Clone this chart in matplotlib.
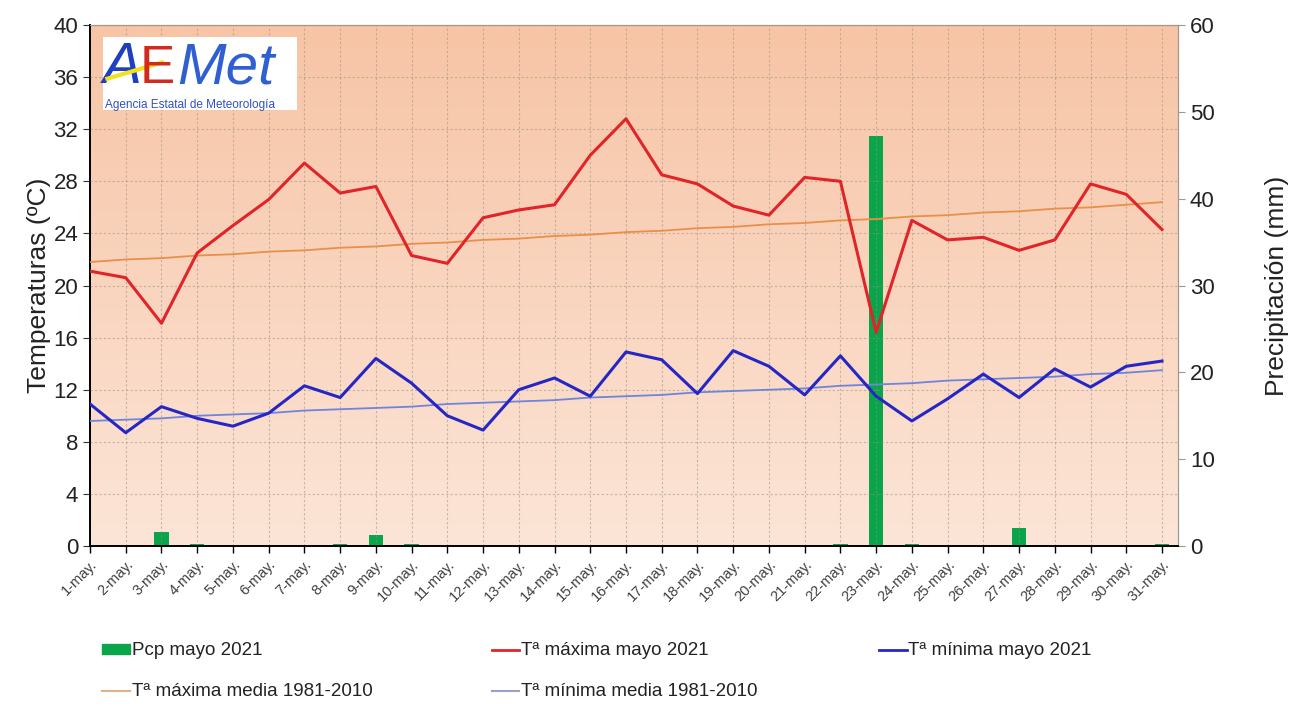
import numpy as np
import matplotlib.pyplot as plt
from matplotlib.lines import Line2D
from matplotlib.patches import Patch, Rectangle

plt.rcParams['font.family'] = ['Liberation Sans', 'DejaVu Sans']

days = list(range(1, 32))
day_labels = ['%d-may.' % d for d in days]

# daily values (May 2021)
tmax = [21.1, 20.6, 17.1, 22.5, 24.6, 26.6, 29.4, 27.1, 27.6, 22.3,
        21.7, 25.2, 25.8, 26.2, 30.0, 32.8, 28.5, 27.8, 26.1, 25.4,
        28.3, 28.0, 16.4, 25.0, 23.5, 23.7, 22.7, 23.5, 27.8, 27.0,
        24.3]
tmin = [10.9, 8.7, 10.7, 9.8, 9.2, 10.2, 12.3, 11.4, 14.4, 12.5,
        10.0, 8.9, 12.0, 12.9, 11.5, 14.9, 14.3, 11.7, 15.0, 13.8,
        11.6, 14.6, 11.5, 9.6, 11.3, 13.2, 11.4, 13.6, 12.2, 13.8,
        14.2]
tmax_normal = [21.8, 22.0, 22.1, 22.3, 22.4, 22.6, 22.7, 22.9, 23.0, 23.2,
               23.3, 23.5, 23.6, 23.8, 23.9, 24.1, 24.2, 24.4, 24.5, 24.7,
               24.8, 25.0, 25.1, 25.3, 25.4, 25.6, 25.7, 25.9, 26.0, 26.2,
               26.4]
tmin_normal = [9.6, 9.7, 9.8, 10.0, 10.1, 10.2, 10.4, 10.5, 10.6, 10.7,
               10.9, 11.0, 11.1, 11.2, 11.4, 11.5, 11.6, 11.8, 11.9, 12.0,
               12.1, 12.3, 12.4, 12.5, 12.7, 12.8, 12.9, 13.0, 13.2, 13.3,
               13.5]
pcp = [0, 0, 1.6, 0.2, 0, 0, 0, 0.2, 1.3, 0.2,
       0, 0, 0, 0, 0, 0, 0, 0, 0, 0,
       0, 0.2, 47.2, 0.2, 0, 0, 2.1, 0, 0, 0,
       0.2]

fig = plt.figure(figsize=(12.97, 7.06), dpi=100)
ax = fig.add_axes([0.0694, 0.2266, 0.8389, 0.7380])
ax2 = ax.twinx()
ax.set_zorder(ax2.get_zorder() + 1)
ax.patch.set_visible(False)

# gradient background + precipitation bars on the secondary axis
grad = np.linspace(0, 1, 256)[:, None]
top_c = np.array([247, 196, 165]) / 255.0
bot_c = np.array([252, 229, 215]) / 255.0
img = top_c[None, None, :] * (1 - grad[:, :, None]) + bot_c[None, None, :] * grad[:, :, None]
ax2.imshow(img, extent=[0.62, 31.45, 0, 60], aspect='auto', zorder=0)
ax2.bar(days, pcp, width=0.4, color='#0aa54a', zorder=2)

ax.plot(days, tmax_normal, color='#e8904a', lw=1.3, zorder=3)
ax.plot(days, tmin_normal, color='#6f84dc', lw=1.3, zorder=3)
ax.plot(days, tmax, color='#e0242a', lw=2.2, zorder=4)
ax.plot(days, tmin, color='#2626c4', lw=2.2, zorder=4)

ax.set_xlim(1, 31.45)
ax2.set_xlim(1, 31.45)
ax.set_ylim(0, 40)
ax2.set_ylim(0, 60)
ax.set_yticks(range(0, 41, 4))
ax2.set_yticks(range(0, 61, 10))
ax.set_xticks(days)
ax.set_xticklabels(day_labels, rotation=45, ha='right', rotation_mode='anchor',
                   fontsize=10.5, color='#404040')
ax.tick_params(axis='x', length=5, width=1, pad=3)
ax.tick_params(axis='y', labelsize=16, length=5, color='#333333', labelcolor='#222222')
ax2.tick_params(axis='y', labelsize=16, length=5, color='#999999', labelcolor='#222222')

ax.grid(True, color='#9a8f88', linestyle=(0, (2, 2)), linewidth=0.8, alpha=0.55)

for s in ['top', 'right']:
    ax.spines[s].set_color('#a09890')
    ax2.spines[s].set_color('#a09890')
ax.spines['left'].set_linewidth(1.4)
ax.spines['bottom'].set_linewidth(1.4)
ax2.spines['left'].set_visible(False)
ax2.spines['bottom'].set_visible(False)

ax.set_ylabel('Temperaturas (ºC)', fontsize=19, color='#222222', labelpad=2)
ax2.set_ylabel('Precipitación (mm)', fontsize=19, color='#222222', labelpad=36)

# AEMET logo
ax.add_patch(Rectangle((0.012, 0.837), 0.178, 0.140, transform=ax.transAxes,
                       facecolor='white', edgecolor='none', zorder=5))
ax.text(0.012, 0.888, 'A', transform=ax.transAxes, fontsize=42, color='#1f3fbf',
        style='italic', zorder=6)
ax.plot([0.016, 0.066], [0.897, 0.928], transform=ax.transAxes, color='#f2e21a',
        lw=3, zorder=6)
ax.text(0.046, 0.888, 'E', transform=ax.transAxes, fontsize=38, color='#d42a1e',
        zorder=6)
ax.text(0.080, 0.888, 'Met', transform=ax.transAxes, fontsize=42, color='#2f5fd0',
        style='italic', zorder=6)
ax.text(0.014, 0.840, 'Agencia Estatal de Meteorología', transform=ax.transAxes,
        fontsize=8.5, color='#3050c0', zorder=6)

# legend entries
entries = [
    (Patch(color='#0aa54a'), 'Pcp mayo 2021', 0.079, 0.078),
    (Line2D([], [], color='#e0242a', lw=2), 'Tª máxima mayo 2021', 0.379, 0.078),
    (Line2D([], [], color='#2626c4', lw=2), 'Tª mínima mayo 2021', 0.678, 0.078),
    (Line2D([], [], color='#e0b28a', lw=1.5), 'Tª máxima media 1981-2010', 0.079, 0.020),
    (Line2D([], [], color='#9aa0c8', lw=1.5), 'Tª mínima media 1981-2010', 0.379, 0.020),
]
for h, lab, x, y in entries:
    leg = fig.legend([h], [lab], loc='center left', bbox_to_anchor=(x, y),
                     frameon=False, fontsize=13.5, handlelength=1.45, handleheight=0.45,
                     handletextpad=0.1, borderpad=0, borderaxespad=0)
    for t in leg.get_texts():
        t.set_color('#222222')

fig.savefig('out.png', dpi=100)
